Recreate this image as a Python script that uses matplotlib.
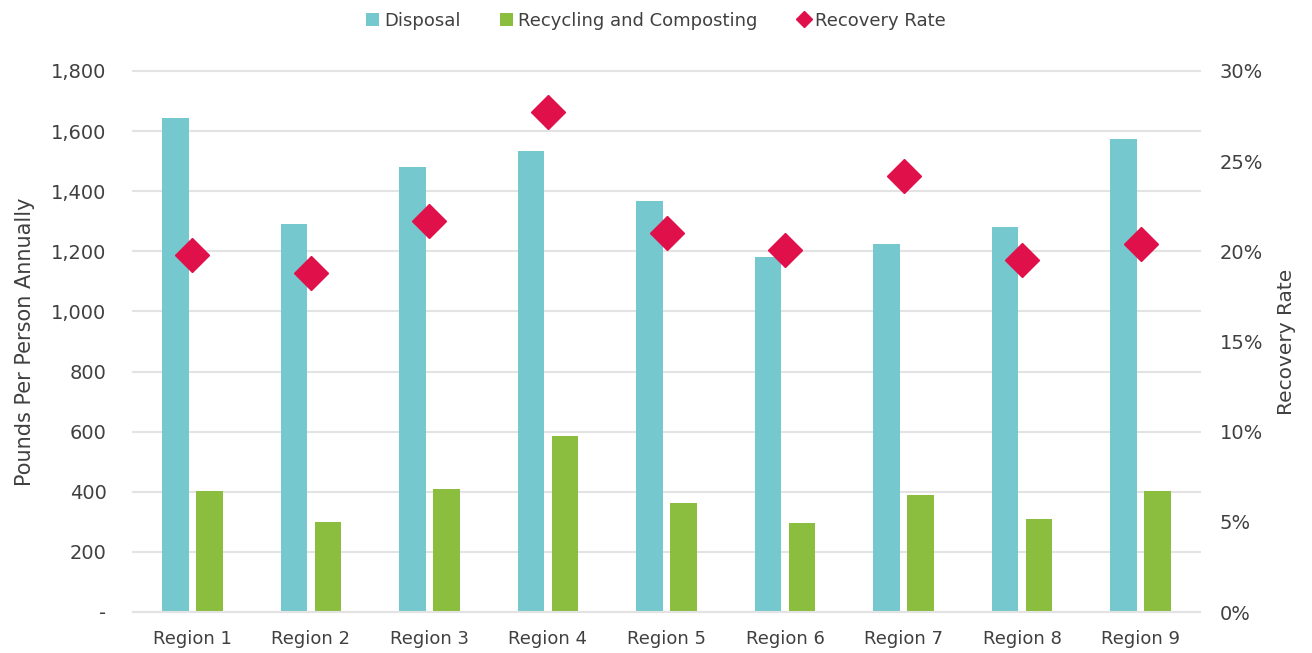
import matplotlib
matplotlib.use("Agg")
import matplotlib.pyplot as plt
from matplotlib.ticker import FuncFormatter, MultipleLocator

regions = ["Region 1", "Region 2", "Region 3", "Region 4", "Region 5",
           "Region 6", "Region 7", "Region 8", "Region 9"]
disposal = [1644, 1291, 1481, 1534, 1367, 1182, 1223, 1282, 1573]
recycling = [404, 298, 410, 587, 362, 296, 390, 309, 402]
recovery = [19.8, 18.8, 21.7, 27.7, 21.0, 20.1, 24.2, 19.5, 20.4]

teal = "#76C8CF"
green = "#8BBE3E"
red = "#E0104B"
txt = "#404040"
grid_c = "#E3E3E3"

plt.rcParams["font.family"] = "DejaVu Sans"

fig = plt.figure(figsize=(13.12, 6.53), dpi=100)
ax = fig.add_axes([133/1312, 41/653, 1067/1312, 541/653])
ax2 = ax.twinx()

x = list(range(len(regions)))
w = 0.224
off = 0.143
b1 = ax.bar([i - off for i in x], disposal, w, color=teal, label="Disposal", zorder=2)
b2 = ax.bar([i + off for i in x], recycling, w, color=green,
            label="Recycling and Composting", zorder=2)
ln, = ax2.plot(x, recovery, linestyle="none", marker="D", markersize=17,
               color=red, label="Recovery Rate", zorder=3)

ax.set_xlim(-0.5, len(regions) - 0.5)
ax.set_ylim(0, 1800)
ax2.set_ylim(0, 30)
ax.yaxis.set_major_locator(MultipleLocator(200))
ax2.yaxis.set_major_locator(MultipleLocator(5))
ax.yaxis.set_major_formatter(FuncFormatter(lambda v, p: "-" if v == 0 else f"{v:,.0f}"))
ax2.yaxis.set_major_formatter(FuncFormatter(lambda v, p: f"{v:.0f}%"))

ax.grid(axis="y", color=grid_c, linewidth=1.5, zorder=0)
ax.set_axisbelow(True)
for gl in ax.get_ygridlines():
    gl.set_clip_on(False)
for a in (ax, ax2):
    for s in a.spines.values():
        s.set_visible(False)
ax.spines["bottom"].set_visible(True)
ax.spines["bottom"].set_color(grid_c)
ax.spines["bottom"].set_linewidth(1.5)

ax.set_xticks(x)
ax.set_xticklabels(regions)
ax.tick_params(axis="x", length=0, pad=13, labelsize=13, labelcolor=txt)
ax.tick_params(axis="y", length=0, pad=19, labelsize=14, labelcolor=txt)
ax2.tick_params(axis="y", length=0, pad=14, labelsize=14, labelcolor=txt)

ax.set_ylabel("Pounds Per Person Annually", fontsize=15, color=txt, labelpad=12)
ax2.set_ylabel("Recovery Rate", fontsize=14.5, color=txt, labelpad=10)

fig.legend([b1, b2, ln], ["Disposal", "Recycling and Composting", "Recovery Rate"],
           loc="center", bbox_to_anchor=(0.5, 1 - 20.5/653), ncol=3, frameon=False,
           fontsize=13, labelcolor=txt, handlelength=0.7, handleheight=0.7,
           handletextpad=0.3, columnspacing=2.2, markerscale=0.5)

fig.savefig("out.png", dpi=100)
